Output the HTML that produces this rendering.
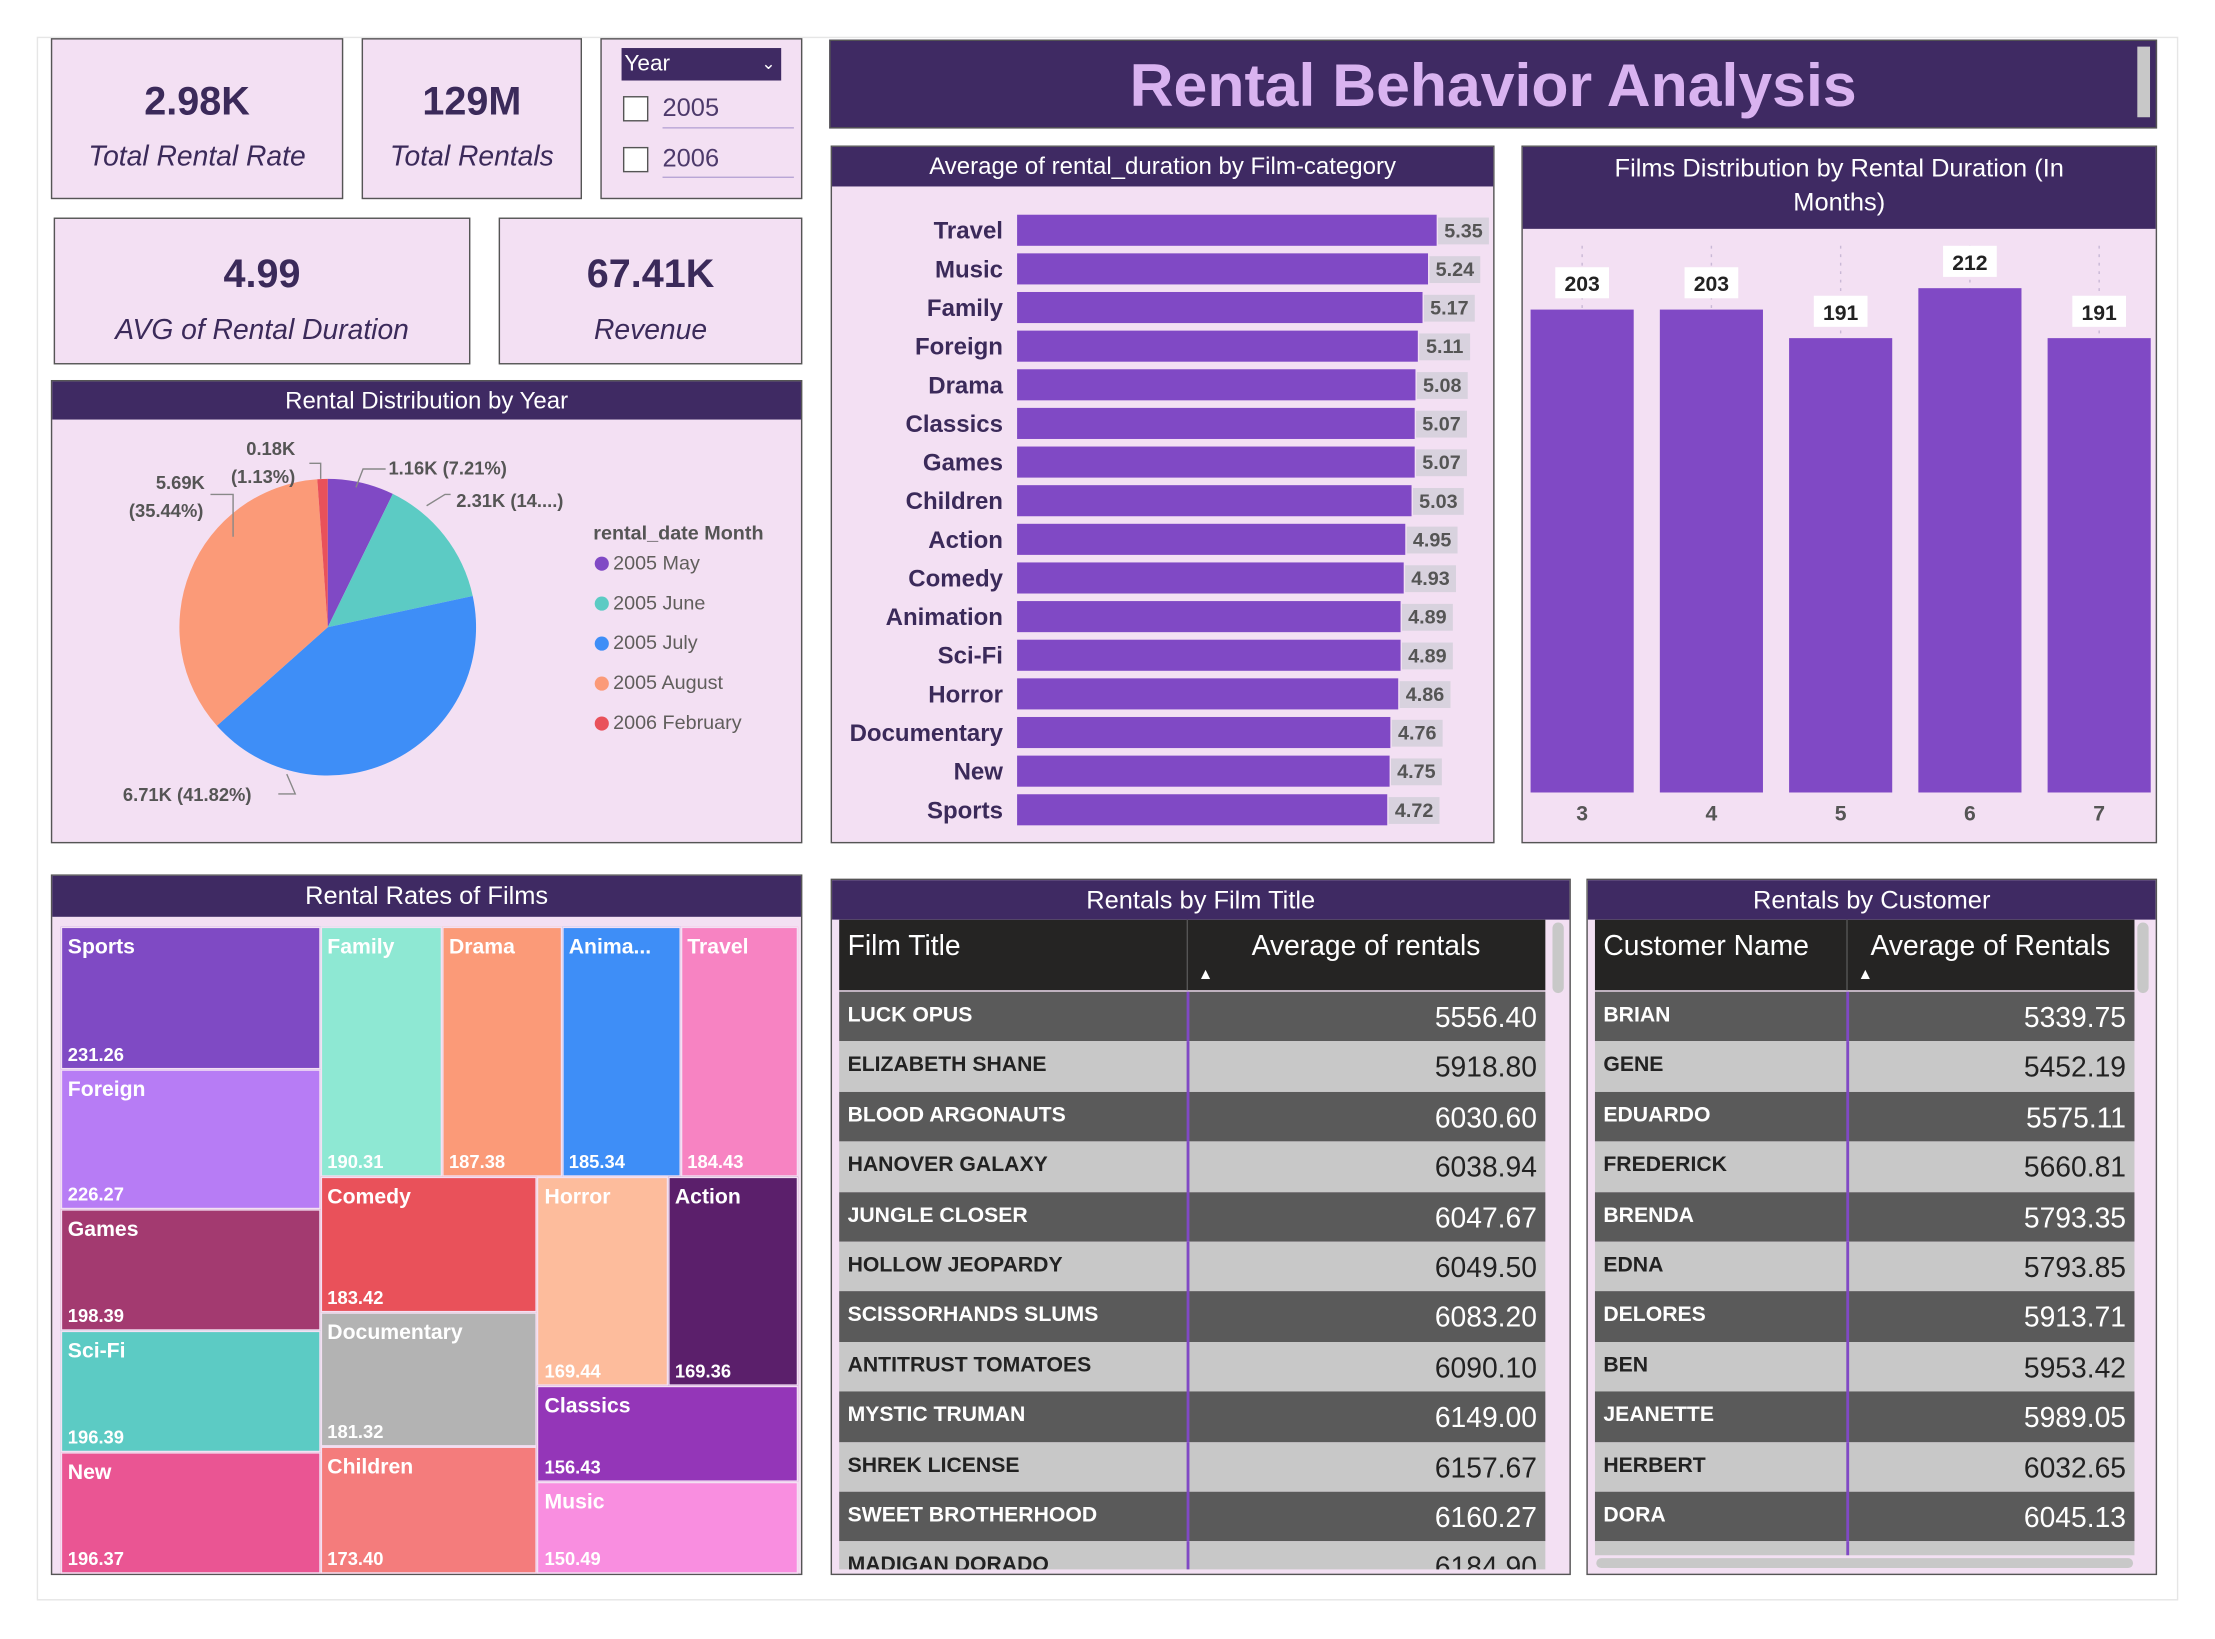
<!DOCTYPE html>
<html><head><meta charset="utf-8">
<style>
html,body{margin:0;padding:0;background:#fff;overflow:hidden;}
body{width:2215px;height:1638px;}
#root{position:absolute;left:0;top:0;width:1568px;height:1160px;transform:scale(1.41263);transform-origin:0 0;font-family:"Liberation Sans","DejaVu Sans",sans-serif;color:#3b2a5a;}
.abs{position:absolute;box-sizing:border-box;}
.panel{position:absolute;box-sizing:border-box;background:#f3e0f3;border:1.5px solid #555;}
.hdr{position:absolute;left:0;right:0;top:0;background:#3f2a63;color:#fff;text-align:center;font-size:17px;line-height:27px;}
.kv{position:absolute;left:0;right:0;text-align:center;font-weight:bold;font-size:28px;color:#3b2a5a;}
.kl{position:absolute;left:0;right:0;text-align:center;font-style:italic;font-size:20px;color:#3b2a5a;}
.row{position:absolute;left:0;right:0;height:35.4px;font-size:15px;}
.row .c1{position:absolute;left:6px;top:0;line-height:33px;font-weight:bold;}
.row .c2{position:absolute;right:6px;top:0;line-height:38px;font-size:20px;}
</style></head><body>
<div id="root">
<div class="abs" style="left:26px;top:26px;width:1516px;height:1107px;border:1px solid #e6e6e6;"></div>

<div class="panel" style="left:36px;top:27px;width:207px;height:114px;">
 <div class="kv" style="top:28px;">2.98K</div>
 <div class="kl" style="top:72px;">Total Rental Rate</div></div>
<div class="panel" style="left:256px;top:27px;width:156px;height:114px;">
 <div class="kv" style="top:28px;">129M</div>
 <div class="kl" style="top:72px;">Total Rentals</div></div>
<div class="panel" style="left:425px;top:27px;width:143px;height:114px;">
 <div class="abs" style="left:14px;top:6px;width:113px;height:23px;background:#3f2a63;color:#fff;font-size:16px;line-height:23px;padding-left:2px;">Year<span style="position:absolute;right:4px;top:0;font-size:12px;">&#8964;</span></div>
 <div class="abs" style="left:15px;top:40px;width:18px;height:18px;border:1.5px solid #555;background:#fff;"></div>
 <div class="abs" style="left:43px;top:38px;font-size:18px;color:#4d3a6b;">2005</div>
 <div class="abs" style="left:43px;top:62px;width:93px;height:1px;background:#b9a6d6;"></div>
 <div class="abs" style="left:15px;top:76px;width:18px;height:18px;border:1.5px solid #555;background:#fff;"></div>
 <div class="abs" style="left:43px;top:74px;font-size:18px;color:#4d3a6b;">2006</div>
 <div class="abs" style="left:43px;top:97px;width:93px;height:1px;background:#b9a6d6;"></div>
</div>
<div class="panel" style="left:38px;top:154px;width:295px;height:104px;">
 <div class="kv" style="top:23px;">4.99</div>
 <div class="kl" style="top:68px;">AVG of Rental Duration</div></div>
<div class="panel" style="left:353px;top:154px;width:215px;height:104px;">
 <div class="kv" style="top:23px;">67.41K</div>
 <div class="kl" style="top:68px;">Revenue</div></div>

<div class="abs" style="left:587px;top:28px;width:940px;height:63px;background:#3f2a63;border:1.5px solid #555;">
 <div class="abs" style="left:0;right:0;top:8px;text-align:center;font-size:43px;font-weight:bold;color:#d9b3f0;">Rental Behavior Analysis</div>
 <div class="abs" style="left:925px;top:4px;width:9px;height:50px;background:#c8c8c8;"></div>
</div>

<div class="panel" style="left:36px;top:269px;width:532px;height:328px;">
 <div class="hdr">Rental Distribution by Year</div>
 <svg id="pie" class="abs" style="left:0;top:0;" width="530" height="326"></svg>
</div>

<div class="panel" style="left:588px;top:103px;width:470px;height:494px;">
 <div class="hdr" style="line-height:28px;">Average of rental_duration by Film-category</div>
 <svg id="bars" class="abs" style="left:0;top:0;" width="468" height="492"></svg>
</div>

<div class="panel" style="left:1077px;top:103px;width:450px;height:494px;">
 <div class="hdr" style="height:55px;line-height:24px;padding-top:3px;font-size:18px;">Films Distribution by Rental Duration (In<br>Months)</div>
 <svg id="cols" class="abs" style="left:0;top:0;" width="448" height="492"></svg>
</div>

<div class="panel" style="left:36px;top:619px;width:532px;height:496px;">
 <div class="hdr" style="line-height:29px;font-size:18px;">Rental Rates of Films</div>
 <div id="tree" class="abs" style="left:6px;top:36px;width:522px;height:458px;"></div>
</div>

<div class="panel" style="left:588px;top:622px;width:524px;height:493px;overflow:hidden;">
 <div class="hdr" style="line-height:28px;font-size:18px;">Rentals by Film Title</div>
 <div id="t1" class="abs" style="left:5px;top:28px;width:500px;height:460px;overflow:hidden;"></div>
 <div class="abs" style="left:510px;top:30px;width:8px;height:50px;background:#c8c8c8;border-radius:4px;"></div>
</div>

<div class="panel" style="left:1123px;top:622px;width:404px;height:493px;overflow:hidden;">
 <div class="hdr" style="line-height:28px;font-size:18px;">Rentals by Customer</div>
 <div id="t2" class="abs" style="left:5px;top:28px;width:382px;height:450px;overflow:hidden;"></div>
 <div class="abs" style="left:389px;top:30px;width:8px;height:50px;background:#c8c8c8;border-radius:4px;"></div>
 <div class="abs" style="left:6px;top:480px;width:380px;height:7px;background:#c8c8c8;border-radius:4px;"></div>
</div>
</div>

<script>
const NS="http://www.w3.org/2000/svg";
function s(tag,attrs,parent,txt){const e=document.createElementNS(NS,tag);for(const k in attrs)e.setAttribute(k,attrs[k]);if(txt!=null)e.textContent=txt;parent.appendChild(e);return e;}

const pieLabels=["2005 May","2005 June","2005 July","2005 August","2006 February"];
const pieValues=[1.16,2.31,6.71,5.69,0.18];
const pieColors=["#8049c5","#5ccbc4","#3e8ef7","#fb9a78","#e9515a"];
const pieText=["1.16K (7.21%)","2.31K (14....)","6.71K (41.82%)","5.69K\n(35.44%)","0.18K\n(1.13%)"];
(function(){
 const svg=document.getElementById('pie');const cx=195,cy=174,r=105;
 const tot=pieValues.reduce((a,b)=>a+b,0);let a0=0;
 pieValues.forEach((v,i)=>{
  const a1=a0+v/tot*2*Math.PI;
  const p=(a)=>[cx+r*Math.sin(a),cy-r*Math.cos(a)];
  const [x0,y0]=p(a0),[x1,y1]=p(a1);const large=(a1-a0)>Math.PI?1:0;
  const el=s('path',{d:`M${cx},${cy}L${x0},${y0}A${r},${r} 0 ${large} 1 ${x1},${y1}Z`,fill:pieColors[i]},svg);
  
  
  a0=a1;
 });
 const lab=[[238,66,'start'],[286,89,'start'],[50,297,'start'],[106,72,'end'],[172,48,'end']];
 const lines=["M215,75L220,62L236,62","M265,88L278,80L282,80","M166,278L172,292L160,292","M128,110L128,80L112,80","M190,69L190,58L182,58"];
 lines.forEach(d=>{const l=s('path',{d:d,fill:'none',stroke:'#888','stroke-width':1},svg);});
 pieText.forEach((t,i)=>{
  const parts=t.split('\n');
  parts.forEach((pt,j)=>{
   const x=i==3?(j==0?108:107):lab[i][0];
   const el=s('text',{x:x,y:lab[i][1]-(parts.length-1-j)*20+(parts.length>1?24:0),'text-anchor':lab[i][2],'font-size':13,'font-weight':'bold',fill:'#555'},svg,pt);
   
  });
 });
 const lt=s('text',{x:383,y:112,'font-size':14,'font-weight':'bold',fill:'#555'},svg,'rental_date Month');
 
 pieLabels.forEach((l,i)=>{
  const y=133+i*28.3;
  const c=s('circle',{cx:389,cy:y-4,r:5,fill:pieColors[i]},svg);
  
  const t=s('text',{x:397,y:y,'font-size':14,fill:'#605e5c'},svg,l);
  
 });
})();

const barCats=["Travel","Music","Family","Foreign","Drama","Classics","Games","Children","Action","Comedy","Animation","Sci-Fi","Horror","Documentary","New","Sports"];
const barVals=[5.35,5.24,5.17,5.11,5.08,5.07,5.07,5.03,4.95,4.93,4.89,4.89,4.86,4.76,4.75,4.72];
(function(){
 const svg=document.getElementById('bars');const x0=131,kx=297/5.35;const y=(i)=>59+i*27.35;
 barCats.forEach((c,i)=>{
  const w=barVals[i]*kx;
  const t=s('text',{x:121,y:y(i)+6,'text-anchor':'end','font-size':17,'font-weight':'bold',fill:'#3b2a5a'},svg,c);
  
  const b=s('rect',{x:x0,y:y(i)-11,width:w,height:22,fill:'#8049c5'},svg);
  
  const bx=s('rect',{x:x0+w+1,y:y(i)-9,width:36,height:19,fill:'#d8d2de'},svg);
  
  const v=s('text',{x:x0+w+19,y:y(i)+5,'text-anchor':'middle','font-size':14,'font-weight':'bold',fill:'#555'},svg,barVals[i].toFixed(2));
  
 });
})();

const colCats=["3","4","5","6","7"];
const colVals=[203,203,191,212,191];
(function(){
 const svg=document.getElementById('cols');const base=457,ky=357/212;const xc=(i)=>42+i*91.5;
 colCats.forEach((c,i)=>{
  const h=colVals[i]*ky;const top=base-h;
  const g=s('line',{x1:xc(i),x2:xc(i),y1:70,y2:base,stroke:'#c9b8d6','stroke-dasharray':'2,4'},svg);
  
  const b=s('rect',{x:xc(i)-36.5,y:top,width:73,height:h,fill:'#8049c5'},svg);
  
  const bx=s('rect',{x:xc(i)-19,y:top-30,width:38,height:22,fill:'#fff'},svg);
  
  const v=s('text',{x:xc(i),y:top-13,'text-anchor':'middle','font-size':15,'font-weight':'bold',fill:'#222'},svg,colVals[i]);
  
  const t=s('text',{x:xc(i),y:base+20,'text-anchor':'middle','font-size':15,'font-weight':'bold',fill:'#555'},svg,c);
  
 });
})();

const tmNames=["Sports","Foreign","Games","Sci-Fi","New","Family","Drama","Anima...","Travel","Comedy","Documentary","Children","Horror","Action","Classics","Music"];
const tmValues=[231.26,226.27,198.39,196.39,196.37,190.31,187.38,185.34,184.43,183.42,181.32,173.40,169.44,169.36,156.43,150.49];
const tmColors=["#7f4ac4","#b77cf5","#a33a70","#5ccbc4","#ea5593","#8ee8d3","#fb9a78","#3e8ef7","#f783c2","#e9515a","#b3b3b3","#f47c7c","#fdbc9c","#5b1f6b","#9436b8","#f98ee0"];
(function(){
 const root=document.getElementById('tree');
 const layout={d:'h',c:[{d:'v',c:[0,1,2,3,4]},{d:'v',c:[{d:'h',c:[5,6,7,8]},{d:'h',c:[{d:'v',c:[9,10,11]},{d:'v',c:[{d:'h',c:[12,13]},{d:'v',c:[14,15]}]}]}]}]};
 const sum=(n)=>typeof n==='number'?tmValues[n]:n.c.reduce((a,b)=>a+sum(b),0);
 function place(n,x,y,w,h){
  if(typeof n==='number'){
   const d=document.createElement('div');d.className='abs';
   d.style.cssText=`left:${x}px;top:${y}px;width:${w}px;height:${h}px;background:${tmColors[n]};border:1px solid #f3e0f3;color:#fff;font-weight:bold;overflow:hidden;`;
   
   
   d.innerHTML=`<div style="position:absolute;left:4px;top:5px;font-size:15px;">${tmNames[n]}</div><div style="position:absolute;left:4px;bottom:2px;font-size:13px;">${tmValues[n].toFixed(2)}</div>`;
   root.appendChild(d);return;
  }
  const tot=sum(n);let off=0;
  n.c.forEach(ch=>{const f=sum(ch)/tot;
   if(n.d==='h'){place(ch,x+off,y,w*f,h);off+=w*f;}else{place(ch,x,y+off,w,h*f);off+=h*f;}});
 }
 place(layout,0,0,522,458);
})();

const filmTitles=["LUCK OPUS","ELIZABETH SHANE","BLOOD ARGONAUTS","HANOVER GALAXY","JUNGLE CLOSER","HOLLOW JEOPARDY","SCISSORHANDS SLUMS","ANTITRUST TOMATOES","MYSTIC TRUMAN","SHREK LICENSE","SWEET BROTHERHOOD","MADIGAN DORADO"];
const filmRentals=["5556.40","5918.80","6030.60","6038.94","6047.67","6049.50","6083.20","6090.10","6149.00","6157.67","6160.27","6184.90"];
const custNames=["BRIAN","GENE","EDUARDO","FREDERICK","BRENDA","EDNA","DELORES","BEN","JEANETTE","HERBERT","DORA","X"];
const custRentals=["5339.75","5452.19","5575.11","5660.81","5793.35","5793.85","5913.71","5953.42","5989.05","6032.65","6045.13","6050.00"];
function table(id,w,div,h1,h2,names,vals,prefix){
 const el=document.getElementById(id);
 const hd=document.createElement('div');hd.className='abs';
 hd.style.cssText=`left:0;top:0;width:${w}px;height:50px;background:#252423;color:#fff;font-size:20px;`;
 
 hd.innerHTML=`<div style="position:absolute;left:6px;top:8px;">${h1}</div><div style="position:absolute;left:${div}px;right:0;top:8px;text-align:center;">${h2}</div><div style="position:absolute;left:${div+8}px;top:33px;font-size:11px;">&#9650;</div><div style="position:absolute;left:${div}px;top:0;width:1px;height:50px;background:#555;"></div>`;
 el.appendChild(hd);
 names.forEach((n,i)=>{
  const r=document.createElement('div');r.className='row';
  const dark=i%2===0;
  r.style.top=(51+i*35.4)+'px';r.style.width=w+'px';
  r.style.background=dark?'#5a5a5a':'#c8c8c8';r.style.color=dark?'#fff':'#222';
  
  r.innerHTML=`<div class="c1">${n==='X'?'':n}</div><div style="position:absolute;left:${div}px;top:0;width:2px;height:100%;background:#8049c5;"></div><div class="c2">${vals[i]}</div>`;
  el.appendChild(r);
 });
}
table('t1',500,246,'Film Title','Average of rentals',filmTitles,filmRentals,'film');
table('t2',382,178,'Customer Name','Average of Rentals',custNames,custRentals,'customer');
</script>
</body></html>
